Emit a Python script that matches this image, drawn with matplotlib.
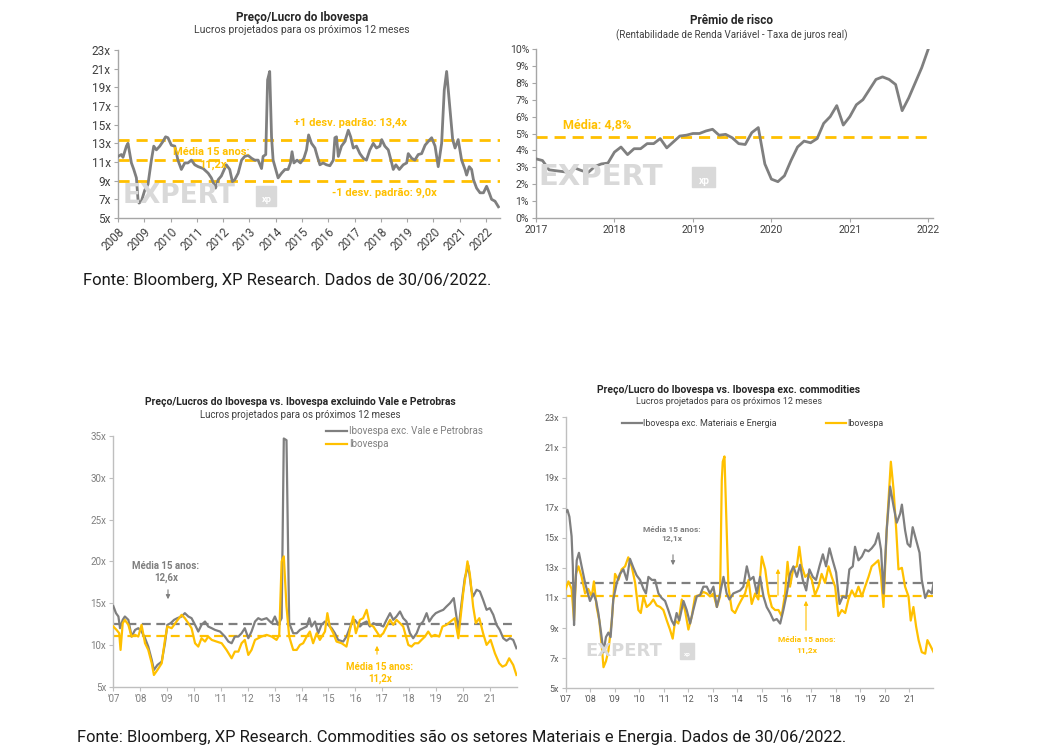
import matplotlib
matplotlib.use("Agg")
import matplotlib.pyplot as plt
import numpy as np

plt.rcParams['font.family'] = ['Roboto', 'DejaVu Sans']

W, H = 1056, 752
GRAY = '#7f7f7f'
YEL = '#FFC000'
TICK = '#595959'

# ---------------- Panel 1: P/L Ibovespa ----------------
pe_years = [2008.00, 2008.13, 2008.19, 2008.32, 2008.38, 2008.51, 2008.60, 2008.70, 2008.76, 2008.80,
            2008.89, 2009.02, 2009.14, 2009.27, 2009.36, 2009.46, 2009.59, 2009.71, 2009.81, 2009.90,
            2010.03, 2010.16, 2010.28, 2010.41, 2010.54, 2010.66, 2010.79, 2010.92, 2011.05, 2011.24,
            2011.43, 2011.55, 2011.71, 2011.81, 2011.93, 2012.12, 2012.25, 2012.35, 2012.44, 2012.57,
            2012.70, 2012.82, 2012.95, 2013.08, 2013.20, 2013.33, 2013.46, 2013.52, 2013.62, 2013.69,
            2013.77, 2013.84, 2013.90, 2014.09, 2014.22, 2014.35, 2014.47, 2014.56, 2014.62, 2014.69,
            2014.81, 2014.94, 2015.07, 2015.17, 2015.25, 2015.36, 2015.49, 2015.58, 2015.68, 2015.80,
            2015.93, 2016.06, 2016.19, 2016.25, 2016.31, 2016.38, 2016.50, 2016.63, 2016.76, 2016.85,
            2016.95, 2017.07, 2017.20, 2017.33, 2017.45, 2017.58, 2017.71, 2017.83, 2017.96, 2018.03,
            2018.15, 2018.28, 2018.41, 2018.47, 2018.57, 2018.70, 2018.85, 2018.98, 2019.04, 2019.17,
            2019.29, 2019.42, 2019.55, 2019.68, 2019.80, 2019.93, 2020.06, 2020.18, 2020.31, 2020.41,
            2020.50, 2020.63, 2020.73, 2020.82, 2020.94, 2021.07, 2021.20, 2021.26, 2021.36, 2021.45,
            2021.52, 2021.64, 2021.77, 2021.90, 2022.02, 2022.12, 2022.21, 2022.34, 2022.47]
pe_values = [11.6, 11.8, 11.5, 12.7, 13.0, 10.9, 10.2, 9.3, 7.0, 6.6,
             6.8, 8.0, 8.6, 11.2, 12.7, 12.3, 12.7, 13.2, 13.7, 13.6,
             12.8, 12.7, 11.2, 10.2, 10.9, 10.9, 11.2, 10.7, 10.5, 10.3,
             9.8, 9.3, 8.2, 9.1, 9.5, 10.7, 10.2, 8.9, 9.1, 9.8,
             11.2, 11.6, 11.7, 11.4, 11.2, 11.2, 10.3, 11.6, 11.8, 19.8,
             20.7, 13.7, 11.2, 9.3, 9.8, 10.2, 10.2, 10.9, 12.1, 10.9,
             11.2, 10.9, 11.4, 12.3, 13.9, 13.0, 12.5, 11.6, 10.7, 10.9,
             10.7, 10.6, 11.2, 13.6, 13.7, 11.6, 12.7, 13.2, 14.4, 13.7,
             12.5, 12.7, 11.9, 11.4, 11.2, 12.3, 13.0, 12.5, 12.7, 13.4,
             12.7, 12.3, 10.9, 10.2, 10.7, 10.2, 10.7, 10.9, 11.9, 11.4,
             11.2, 11.8, 11.9, 12.8, 13.2, 13.6, 12.7, 10.5, 13.0, 18.7,
             20.7, 16.6, 13.4, 12.5, 13.4, 11.2, 10.2, 9.6, 10.5, 10.2,
             9.1, 8.2, 7.7, 7.7, 8.4, 7.7, 7.0, 6.8, 6.2]
pe_mean, pe_plus, pe_minus = 11.2, 13.4, 9.0
p1_xticks = list(range(2008, 2023))
p1_yticks = list(range(5, 24, 2))

# ---------------- Panel 2: Prêmio de risco (monthly, Jan/2017 - Jan/2022) ----------------
rp_start = 2017
rp_values = [3.5, 3.4, 2.85, 2.8, 2.75, 2.7, 2.95, 2.8, 2.7, 3.05,
             3.2, 3.25, 3.9, 4.2, 3.75, 4.1, 4.1, 4.4, 4.4, 4.7,
             4.15, 4.5, 4.85, 4.9, 5.0, 5.0, 5.15, 5.25, 4.9, 4.95,
             4.75, 4.4, 4.35, 5.05, 5.35, 3.2, 2.3, 2.15, 2.5, 3.4,
             4.2, 4.55, 4.45, 4.7, 5.6, 6.0, 6.65, 5.5, 6.0, 6.7,
             7.0, 7.6, 8.2, 8.35, 8.2, 7.9, 6.35, 7.1, 8.0, 8.9, 10.0]
rp_mean = 4.8
p2_xticks = list(range(2017, 2023))
p2_yticks = list(range(0, 11))

# ---------------- Panel 3: Ibovespa vs exc. Vale e Petrobras ----------------
vp_gray_years = [2007.00, 2007.10, 2007.19, 2007.25, 2007.35, 2007.43, 2007.56, 2007.68, 2007.81, 2007.93,
                 2008.05, 2008.18, 2008.30, 2008.43, 2008.51, 2008.64, 2008.80, 2008.92, 2009.01, 2009.13,
                 2009.26, 2009.38, 2009.54, 2009.66, 2009.79, 2009.91, 2010.04, 2010.16, 2010.28, 2010.41,
                 2010.53, 2010.66, 2010.78, 2010.97, 2011.15, 2011.28, 2011.40, 2011.52, 2011.65, 2011.77,
                 2011.89, 2012.02, 2012.14, 2012.27, 2012.39, 2012.51, 2012.70, 2012.89, 2013.01, 2013.13,
                 2013.26, 2013.34, 2013.44, 2013.54, 2013.69, 2013.82, 2013.94, 2014.06, 2014.19, 2014.29,
                 2014.37, 2014.50, 2014.62, 2014.74, 2014.87, 2014.99, 2015.12, 2015.24, 2015.36, 2015.55,
                 2015.67, 2015.86, 2015.98, 2016.17, 2016.29, 2016.42, 2016.54, 2016.67, 2016.79, 2016.91,
                 2017.04, 2017.16, 2017.29, 2017.41, 2017.53, 2017.66, 2017.78, 2017.90, 2018.03, 2018.15,
                 2018.28, 2018.40, 2018.52, 2018.65, 2018.75, 2018.87, 2018.99, 2019.12, 2019.27, 2019.39,
                 2019.52, 2019.66, 2019.83, 2019.95, 2020.07, 2020.20, 2020.32, 2020.38, 2020.51, 2020.63,
                 2020.75, 2020.88, 2021.00, 2021.13, 2021.25, 2021.37, 2021.50, 2021.62, 2021.75, 2021.87,
                 2021.99]
vp_gray_values = [14.65, 13.8, 13.4, 12.0, 13.0, 13.4, 13.0, 11.0, 11.8, 12.0,
                  11.6, 10.8, 9.8, 8.2, 7.0, 7.6, 8.0, 10.2, 12.4, 12.6,
                  13.0, 13.2, 13.4, 13.8, 13.4, 13.2, 12.4, 11.6, 12.4, 12.8,
                  12.2, 12.0, 11.8, 11.6, 11.0, 10.4, 10.2, 11.0, 11.0, 11.4,
                  12.0, 10.8, 11.6, 12.8, 13.2, 13.0, 13.2, 12.6, 13.4, 12.4,
                  13.2, 34.7, 34.5, 12.6, 11.4, 11.4, 11.8, 12.0, 12.2, 13.2,
                  12.2, 12.8, 11.4, 12.4, 12.8, 12.4, 12.0, 11.4, 10.6, 10.4,
                  11.0, 12.6, 13.0, 12.2, 12.6, 12.8, 12.2, 12.6, 12.4, 12.4,
                  12.2, 13.0, 13.8, 13.0, 13.4, 14.0, 13.2, 12.8, 11.4, 10.8,
                  11.4, 12.4, 12.8, 13.8, 12.8, 13.4, 13.8, 14.0, 14.2, 14.6,
                  15.0, 15.6, 11.8, 15.0, 18.0, 19.5, 16.5, 15.8, 16.6, 16.4,
                  15.4, 14.2, 14.4, 13.6, 12.4, 11.8, 10.8, 10.5, 10.8, 10.6,
                  9.6]
vp_ibov_years = [2007.00, 2007.12, 2007.22, 2007.27, 2007.35, 2007.43, 2007.56, 2007.68, 2007.81, 2007.93,
                 2008.05, 2008.18, 2008.30, 2008.43, 2008.51, 2008.64, 2008.80, 2008.92, 2009.01, 2009.17,
                 2009.35, 2009.54, 2009.66, 2009.79, 2009.91, 2010.04, 2010.16, 2010.28, 2010.41, 2010.53,
                 2010.66, 2010.84, 2011.03, 2011.21, 2011.40, 2011.52, 2011.65, 2011.77, 2011.89, 2012.02,
                 2012.14, 2012.27, 2012.51, 2012.70, 2012.89, 2013.07, 2013.17, 2013.26, 2013.34, 2013.44,
                 2013.54, 2013.69, 2013.82, 2013.94, 2014.06, 2014.19, 2014.31, 2014.43, 2014.56, 2014.68,
                 2014.87, 2014.96, 2015.05, 2015.18, 2015.30, 2015.49, 2015.67, 2015.80, 2015.92, 2016.02,
                 2016.17, 2016.29, 2016.42, 2016.54, 2016.67, 2016.79, 2016.91, 2017.04, 2017.16, 2017.29,
                 2017.41, 2017.53, 2017.66, 2017.78, 2017.97, 2018.09, 2018.21, 2018.34, 2018.46, 2018.59,
                 2018.71, 2018.83, 2018.96, 2019.12, 2019.24, 2019.39, 2019.54, 2019.70, 2019.83, 2020.01,
                 2020.17, 2020.26, 2020.38, 2020.48, 2020.61, 2020.75, 2020.88, 2021.03, 2021.19, 2021.35,
                 2021.47, 2021.60, 2021.72, 2021.87, 2021.99]
vp_ibov_values = [12.2, 11.8, 11.4, 9.4, 12.6, 13.0, 12.4, 11.0, 11.2, 11.0,
                  12.4, 10.2, 9.4, 7.8, 6.4, 7.0, 7.8, 10.6, 12.2, 12.0,
                  12.8, 13.6, 13.2, 12.6, 12.0, 10.2, 9.8, 10.8, 10.4, 11.0,
                  10.6, 10.4, 10.2, 9.4, 8.4, 9.2, 9.2, 10.2, 10.6, 8.8,
                  9.4, 10.6, 11.0, 11.2, 11.0, 10.6, 11.2, 20.0, 20.6, 14.6,
                  11.0, 9.4, 9.4, 10.0, 10.2, 11.0, 11.6, 10.2, 11.4, 10.6,
                  11.6, 13.8, 12.2, 11.4, 10.4, 10.2, 9.8, 11.8, 13.4, 11.4,
                  13.0, 13.2, 14.2, 12.4, 12.2, 11.6, 11.0, 11.4, 12.2, 13.0,
                  12.4, 13.0, 12.6, 12.2, 10.0, 9.8, 10.2, 10.2, 10.6, 11.0,
                  11.6, 11.0, 11.2, 11.0, 12.2, 12.4, 12.8, 13.2, 10.8, 16.2,
                  20.0, 18.4, 14.6, 12.6, 13.2, 11.4, 10.0, 10.6, 9.0, 7.8,
                  7.4, 7.6, 8.4, 7.6, 6.4]
vp_gray_mean, vp_ibov_mean = 12.5, 11.1
p3_xticks = list(range(2007, 2022))
p3_yticks = list(range(5, 36, 5))

# ---------------- Panel 4: Ibovespa vs exc. commodities ----------------
cm_gray_years = [2007.00, 2007.07, 2007.15, 2007.24, 2007.29, 2007.34, 2007.38, 2007.45, 2007.54, 2007.65,
                 2007.79, 2007.92, 2007.99, 2008.13, 2008.24, 2008.33, 2008.44, 2008.54, 2008.64, 2008.74,
                 2008.83, 2008.94, 2009.08, 2009.21, 2009.35, 2009.49, 2009.62, 2009.76, 2009.89, 2010.03,
                 2010.17, 2010.27, 2010.37, 2010.51, 2010.64, 2010.78, 2010.91, 2011.05, 2011.18, 2011.32,
                 2011.42, 2011.52, 2011.63, 2011.80, 2011.93, 2012.07, 2012.20, 2012.34, 2012.48, 2012.61,
                 2012.75, 2012.88, 2013.02, 2013.16, 2013.29, 2013.43, 2013.56, 2013.67, 2013.83, 2013.97,
                 2014.11, 2014.24, 2014.38, 2014.51, 2014.65, 2014.79, 2014.92, 2015.06, 2015.19, 2015.33,
                 2015.47, 2015.60, 2015.74, 2015.87, 2016.01, 2016.14, 2016.28, 2016.42, 2016.55, 2016.66,
                 2016.80, 2016.93, 2017.07, 2017.20, 2017.34, 2017.48, 2017.61, 2017.75, 2017.88, 2018.02,
                 2018.16, 2018.29, 2018.43, 2018.56, 2018.70, 2018.79, 2018.93, 2019.07, 2019.20, 2019.34,
                 2019.47, 2019.61, 2019.74, 2019.85, 2019.95, 2020.08, 2020.22, 2020.36, 2020.49, 2020.63,
                 2020.70, 2020.83, 2020.93, 2021.04, 2021.14, 2021.28, 2021.42, 2021.51, 2021.65, 2021.78,
                 2021.92, 2021.99]
cm_gray_values = [16.7, 16.85, 16.4, 15.1, 13.1, 9.2, 11.3, 13.5, 14.0, 13.1,
                  12.0, 11.2, 10.8, 11.3, 10.8, 10.0, 8.7, 7.4, 8.4, 8.7,
                  8.4, 10.9, 12.0, 12.6, 12.9, 12.2, 13.6, 13.0, 12.5, 12.2,
                  11.6, 11.3, 12.4, 12.2, 12.2, 11.3, 11.0, 10.8, 10.2, 9.5,
                  9.2, 10.0, 9.5, 10.8, 10.2, 9.3, 10.2, 11.1, 11.2, 11.75,
                  11.75, 11.3, 11.75, 10.4, 11.3, 12.4, 11.3, 10.9, 11.3, 11.4,
                  11.5, 11.75, 13.1, 12.2, 12.4, 11.3, 12.4, 11.1, 10.4, 10.0,
                  9.5, 9.6, 9.3, 10.2, 11.3, 12.6, 13.1, 12.4, 13.2, 12.2,
                  11.5, 12.9, 12.4, 12.2, 13.1, 13.9, 13.1, 14.3, 13.5, 12.7,
                  10.6, 11.1, 11.0, 12.9, 13.1, 14.4, 13.5, 13.75, 14.2, 14.1,
                  14.3, 14.6, 15.3, 14.2, 11.3, 15.5, 18.4, 17.1, 16.0, 16.6,
                  17.2, 15.5, 14.6, 14.4, 15.7, 14.85, 14.0, 12.2, 11.0, 11.5,
                  11.3, 12.0]
cm_ibov_years = [2007.00, 2007.11, 2007.24, 2007.34, 2007.42, 2007.52, 2007.65, 2007.79, 2007.92, 2008.06,
                 2008.15, 2008.26, 2008.37, 2008.47, 2008.54, 2008.64, 2008.74, 2008.88, 2009.01, 2009.15,
                 2009.28, 2009.42, 2009.55, 2009.69, 2009.83, 2009.96, 2010.06, 2010.17, 2010.30, 2010.44,
                 2010.57, 2010.71, 2010.85, 2010.98, 2011.12, 2011.25, 2011.36, 2011.46, 2011.59, 2011.73,
                 2011.86, 2012.00, 2012.14, 2012.27, 2012.48, 2012.61, 2012.75, 2012.88, 2013.02, 2013.16,
                 2013.29, 2013.36, 2013.40, 2013.47, 2013.54, 2013.63, 2013.77, 2013.90, 2014.04, 2014.17,
                 2014.31, 2014.45, 2014.58, 2014.72, 2014.85, 2014.99, 2015.13, 2015.26, 2015.40, 2015.53,
                 2015.67, 2015.80, 2015.94, 2016.04, 2016.14, 2016.28, 2016.42, 2016.52, 2016.62, 2016.76,
                 2016.89, 2017.03, 2017.16, 2017.30, 2017.43, 2017.57, 2017.71, 2017.84, 2017.98, 2018.11,
                 2018.25, 2018.39, 2018.52, 2018.66, 2018.79, 2018.93, 2019.07, 2019.20, 2019.34, 2019.47,
                 2019.61, 2019.74, 2019.85, 2019.95, 2020.08, 2020.25, 2020.36, 2020.47, 2020.56, 2020.70,
                 2020.83, 2020.97, 2021.06, 2021.17, 2021.28, 2021.38, 2021.51, 2021.65, 2021.74, 2021.87,
                 2021.99]
cm_ibov_values = [11.6, 12.1, 11.6, 9.5, 12.6, 13.1, 12.4, 11.3, 11.6, 11.1,
                  12.1, 10.4, 9.5, 7.8, 6.4, 6.8, 7.5, 9.5, 12.6, 12.2,
                  12.9, 13.1, 13.7, 13.1, 12.0, 10.2, 10.0, 11.1, 10.4, 10.6,
                  10.9, 10.5, 10.4, 10.2, 9.5, 8.9, 8.3, 9.5, 9.3, 10.9,
                  10.2, 8.9, 9.8, 11.1, 11.2, 11.4, 11.3, 11.1, 11.3, 10.4,
                  11.1, 18.8, 20.05, 20.4, 16.6, 11.75, 10.2, 10.0, 10.5, 10.9,
                  11.3, 12.2, 10.6, 11.3, 10.9, 13.75, 12.9, 11.3, 10.4, 10.2,
                  10.2, 9.8, 11.3, 13.4, 11.75, 13.0, 13.1, 14.4, 13.1, 12.4,
                  12.6, 12.2, 11.2, 11.75, 12.6, 12.0, 13.1, 12.4, 11.75, 9.8,
                  10.2, 10.0, 10.9, 11.5, 11.1, 11.75, 11.1, 11.75, 12.4, 13.1,
                  13.3, 13.5, 12.4, 10.4, 15.5, 20.05, 18.2, 15.5, 12.9, 13.0,
                  11.75, 11.1, 9.5, 10.4, 9.1, 8.2, 7.4, 7.3, 8.2, 7.8,
                  7.4]
cm_gray_mean, cm_ibov_mean = 12.0, 11.1
p4_xticks = list(range(2007, 2022))
p4_yticks = list(range(5, 24, 2))

# ---------------- helpers ----------------
fig = plt.figure(figsize=(W / 100, H / 100), dpi=100)
fig.patch.set_facecolor('white')


def rect(l, t, r, b):
    return [l / W, 1 - b / H, (r - l) / W, (b - t) / H]


def ftext(x, y, s, **kw):
    kw.setdefault('ha', 'center')
    kw.setdefault('va', 'center')
    return fig.text(x / W, 1 - y / H, s, **kw)


def farrow(x, y0, y1, color):
    fig.add_artist(matplotlib.patches.FancyArrowPatch(
        (x / W, 1 - y0 / H), (x / W, 1 - y1 / H), transform=fig.transFigure,
        arrowstyle='-|>', mutation_scale=6, color=color, lw=0.8))


def watermark(x0, y, size, box_x, box_w, box_h):
    ftext(x0, y, 'EXPERT', ha='left', fontsize=size, fontweight='bold',
          color='#d9d9d9', family='DejaVu Sans', zorder=0)
    fig.add_artist(matplotlib.patches.Rectangle(
        (box_x / W, 1 - (y + box_h / 2) / H), box_w / W, box_h / H,
        transform=fig.transFigure, color='#d9d9d9', zorder=0))
    ftext(box_x + box_w * 0.55, y + box_h * 0.2, 'xp', fontsize=size * 0.35,
          fontweight='bold', color='white', zorder=1)


def style_axes(ax, tick_color, spine_color, fs):
    for s in ['top', 'right']:
        ax.spines[s].set_visible(False)
    for s in ['left', 'bottom']:
        ax.spines[s].set_color(spine_color)
        ax.spines[s].set_linewidth(1.0)
    ax.tick_params(axis='both', colors=spine_color, labelcolor=tick_color,
                   labelsize=fs, length=3, width=0.8, pad=2)
    ax.set_facecolor('none')


DASH = (0, (4, 2.5))

# ---------------- Panel 1 ----------------
watermark(123, 196, 19, 256, 20, 20)
ax1 = fig.add_axes(rect(118, 50, 500, 218))
ax1.plot(pe_years, pe_values, color=GRAY, lw=2.0, zorder=3)
for v in (pe_plus, pe_mean, pe_minus):
    ax1.axhline(v, color=YEL, lw=2.0, ls=DASH, zorder=2)
ax1.set_xlim(2008, 2022.53)
ax1.set_ylim(5, 23)
ax1.set_xticks(p1_xticks)
ax1.set_xticklabels([str(y) for y in p1_xticks], rotation=45, ha='right',
                    rotation_mode='anchor')
ax1.set_yticks(p1_yticks)
ax1.set_yticklabels([f'{v}x' for v in p1_yticks])
style_axes(ax1, '#404040', '#a6a6a6', 8.5)
ftext(302, 17, 'Preço/Lucro do Ibovespa', fontsize=8.5, fontweight='bold', color='#262626')
ftext(302, 30, 'Lucros projetados para os próximos 12 meses', fontsize=7.5, color='#404040')
ftext(350, 123, '+1 desv. padrão: 13,4x', fontsize=8, color=YEL, fontweight='bold')
ftext(211, 152, 'Média 15 anos:', fontsize=8, color=YEL, fontweight='bold')
ftext(213, 165, '11,2x', fontsize=8, color=YEL, fontweight='bold')
ftext(384, 193, '-1 desv. padrão: 9,0x', fontsize=8, color=YEL, fontweight='bold')

# ---------------- Panel 2 ----------------
watermark(538, 177, 21, 692, 23, 20)
ax2 = fig.add_axes(rect(536, 49, 933, 218))
rp_x = [rp_start + i / 12 for i in range(len(rp_values))]
ax2.plot(rp_x, rp_values, color=GRAY, lw=2.0, zorder=3)
ax2.axhline(rp_mean, color=YEL, lw=2.0, ls=DASH, zorder=2)
ax2.set_xlim(2017, 2022.06)
ax2.set_ylim(0, 10)
ax2.set_xticks(p2_xticks)
ax2.set_xticklabels([str(y) for y in p2_xticks])
ax2.set_yticks(p2_yticks)
ax2.set_yticklabels([f'{v}%' for v in p2_yticks])
style_axes(ax2, '#404040', '#a6a6a6', 7.5)
ftext(732, 21, 'Prêmio de risco', fontsize=8.5, fontweight='bold', color='#262626')
ftext(732, 35, '(Rentabilidade de Renda Variável - Taxa de juros real)', fontsize=7,
      color='#404040')
ftext(563, 125, 'Média: 4,8%', ha='left', fontsize=9, color=YEL, fontweight='bold')

# ---------------- Panel 3 ----------------
ax3 = fig.add_axes(rect(113.3, 436, 516.7, 686.7))
ax3.axhline(vp_gray_mean, color=GRAY, lw=1.6, ls=DASH, zorder=2)
ax3.axhline(vp_ibov_mean, color=YEL, lw=1.6, ls=DASH, zorder=2)
ax3.plot(vp_gray_years, vp_gray_values, color=GRAY, lw=1.6, zorder=3,
         label='Ibovespa exc. Vale e Petrobras')
ax3.plot(vp_ibov_years, vp_ibov_values, color=YEL, lw=1.6, zorder=4, label='Ibovespa')
ax3.set_xlim(2007, 2022.0)
ax3.set_ylim(5, 35)
ax3.set_xticks(p3_xticks)
ax3.set_xticklabels([f"'{y % 100:02d}" for y in p3_xticks])
ax3.set_yticks(p3_yticks)
ax3.set_yticklabels([f'{v}x' for v in p3_yticks])
style_axes(ax3, '#7f7f7f', '#bfbfbf', 7)
leg3 = ax3.legend(loc='upper left', bbox_to_anchor=(326 / W, 1 - 426 / H),
                  bbox_transform=fig.transFigure, frameon=False, fontsize=7,
                  handlelength=2.2, handletextpad=0.15, labelspacing=0.3,
                  borderpad=0, borderaxespad=0)
for t in leg3.get_texts():
    t.set_color('#7f7f7f')
ftext(300, 402, 'Preço/Lucros do Ibovespa vs. Ibovespa excluindo Vale e Petrobras',
      fontsize=7.5, fontweight='bold', color='#262626')
ftext(300, 415, 'Lucros projetados para os próximos 12 meses', fontsize=7, color='#404040')
ftext(166, 566, 'Média 15 anos:', fontsize=7, color=GRAY, fontweight='bold')
ftext(166, 578, '12,6x', fontsize=7, color=GRAY, fontweight='bold')
farrow(168, 587, 602, GRAY)
ftext(380, 667, 'Média 15 anos:', fontsize=7, color=YEL, fontweight='bold')
ftext(380, 679, '11,2x', fontsize=7, color=YEL, fontweight='bold')
farrow(377, 657, 643, YEL)

# ---------------- Panel 4 ----------------
watermark(585, 651, 13, 680, 14, 16)
ax4 = fig.add_axes(rect(565.7, 417.3, 933.3, 688.3))
ax4.axhline(cm_gray_mean, color=GRAY, lw=1.6, ls=DASH, zorder=2)
ax4.axhline(cm_ibov_mean, color=YEL, lw=1.6, ls=DASH, zorder=2)
ax4.plot(cm_ibov_years, cm_ibov_values, color=YEL, lw=1.6, zorder=3, label='Ibovespa')
ax4.plot(cm_gray_years, cm_gray_values, color=GRAY, lw=1.6, zorder=4,
         label='Ibovespa exc. Materiais e Energia')
ax4.set_xlim(2007, 2021.98)
ax4.set_ylim(5, 23)
ax4.set_xticks(p4_xticks)
ax4.set_xticklabels([f"'{y % 100:02d}" for y in p4_xticks])
ax4.set_yticks(p4_yticks)
ax4.set_yticklabels([f'{v}x' for v in p4_yticks])
style_axes(ax4, '#595959', '#bfbfbf', 6.5)
h, l = ax4.get_legend_handles_labels()
leg4 = ax4.legend([h[1], h[0]], [l[1], l[0]], loc='center left',
                  bbox_to_anchor=(622 / W, 1 - 424 / H), bbox_transform=fig.transFigure,
                  frameon=False, fontsize=6.5, ncol=2, handlelength=2.2,
                  handletextpad=0.15, columnspacing=5.5, borderpad=0, borderaxespad=0)
for t in leg4.get_texts():
    t.set_color('#404040')
ftext(729, 390, 'Preço/Lucro do Ibovespa vs. Ibovespa exc. commodities',
      fontsize=7.5, fontweight='bold', color='#262626')
ftext(729, 402, 'Lucros projetados para os próximos 12 meses', fontsize=6.5, color='#404040')
ftext(672, 529, 'Média 15 anos:', fontsize=6, color=GRAY, fontweight='bold')
ftext(672, 538, '12,1x', fontsize=6, color=GRAY, fontweight='bold')
farrow(673, 552, 568, GRAY)
ftext(807, 640, 'Média 15 anos:', fontsize=6, color=YEL, fontweight='bold')
ftext(807, 650, '11,2x', fontsize=6, color=YEL, fontweight='bold')
farrow(806, 633, 598, YEL)
farrow(778, 598, 566, YEL)

# ---------------- footers ----------------
ftext(83, 280, 'Fonte: Bloomberg, XP Research. Dados de 30/06/2022.', ha='left',
      fontsize=12, color='#1a1a1a')
ftext(77, 737, 'Fonte: Bloomberg, XP Research. Commodities são os setores Materiais e Energia. '
      'Dados de 30/06/2022.', ha='left', fontsize=11.9, color='#1a1a1a')

fig.savefig('out.png', dpi=100, facecolor='white')
